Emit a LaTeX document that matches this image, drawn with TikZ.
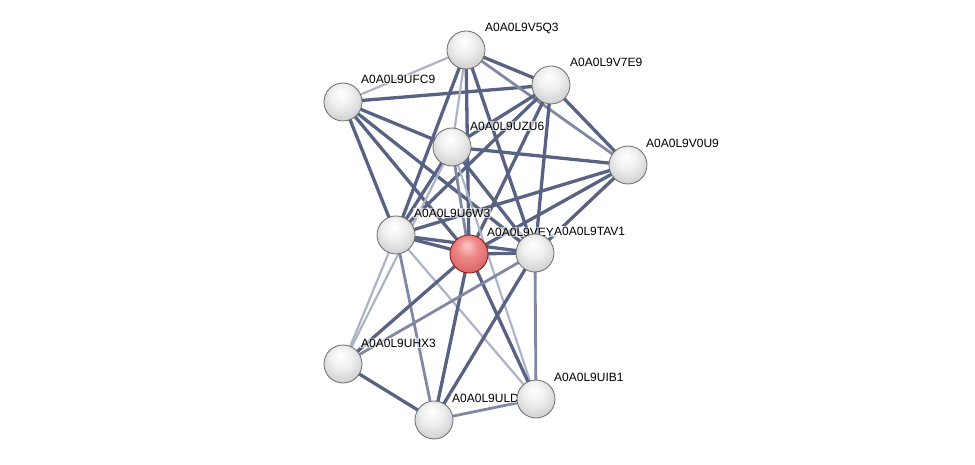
\documentclass[tikz,border=0pt]{standalone}
\usepackage{fontspec}
\setmainfont{Liberation Sans}
\definecolor{edk}{RGB}{88,98,130}
\definecolor{emd}{RGB}{128,136,165}
\definecolor{elt}{RGB}{172,178,200}
\definecolor{r0}{RGB}{250,200,200}
\definecolor{r1}{RGB}{238,135,135}
\definecolor{r2}{RGB}{215,95,95}
\definecolor{r3}{RGB}{175,55,55}
\definecolor{r4}{RGB}{140,30,30}
\pgfdeclareradialshading{wball}{\pgfpoint{-3bp}{12bp}}{color(0bp)=(white); color(14bp)=(white!94!black); color(32bp)=(white!80!black); color(42bp)=(white!70!black); color(48bp)=(white!58!black); color(50bp)=(white!50!black)}
\pgfdeclareradialshading{rball}{\pgfpoint{-3bp}{12bp}}{color(0bp)=(r0); color(14bp)=(r1); color(32bp)=(r2); color(42bp)=(r3); color(48bp)=(r4); color(50bp)=(r4)}
\tikzset{
  prot/.style={circle, minimum size=38pt, inner sep=0pt, shading=wball, draw=white!42!black, line width=0.8pt},
  qprot/.style={circle, minimum size=38pt, inner sep=0pt, shading=rball, draw=r4, line width=0.9pt},
  lbl/.style={anchor=west, font=\fontsize{12}{14}\selectfont, inner sep=1pt, fill=white, fill opacity=0.6, text opacity=1},
  dk/.style={draw=edk, line width=3.3pt},
  md/.style={draw=emd, line width=2.8pt},
  lt/.style={draw=elt, line width=2.2pt}
}
\begin{document}
\begin{tikzpicture}[x=1pt,y=-1pt]
\useasboundingbox (0,0) rectangle (975,465);
% node positions
\coordinate (v5q3) at (466,50);
\coordinate (v7e9) at (551,85);
\coordinate (ufc9) at (343,102);
\coordinate (uzu6) at (452,147);
\coordinate (v0u9) at (628,165);
\coordinate (u6w3) at (396,235);
\coordinate (vey) at (469,254);
\coordinate (tav1) at (535,253);
\coordinate (uhx3) at (343,364);
\coordinate (uib1) at (536,399);
\coordinate (uld) at (434,420);
% edges
\draw[lt] (ufc9) -- (v5q3);
\draw[dk] (ufc9) -- (v7e9);
\draw[dk] (ufc9) -- (uzu6);
\draw[dk] (ufc9) -- (u6w3);
\draw[dk] (ufc9) -- (vey);
\draw[dk] (ufc9) -- (tav1);
\draw[dk] (v5q3) -- (v7e9);
\draw[md] (v5q3) -- (v0u9);
\draw[lt] (v5q3) -- (uzu6);
\draw[dk] (v5q3) -- (u6w3);
\draw[dk] (v5q3) -- (vey);
\draw[dk] (v5q3) -- (tav1);
\draw[dk] (v7e9) -- (v0u9);
\draw[dk] (v7e9) -- (uzu6);
\draw[dk] (v7e9) -- (u6w3);
\draw[dk] (v7e9) -- (vey);
\draw[dk] (v7e9) -- (tav1);
\draw[dk] (uzu6) -- (v0u9);
\draw[dk] (uzu6) -- (u6w3);
\draw[md] (uzu6) -- (vey);
\draw[dk] (uzu6) -- (tav1);
\draw[lt] (uzu6) -- (uhx3);
\draw[lt] (uzu6) -- (uib1);
\draw[dk] (v0u9) -- (u6w3);
\draw[dk] (v0u9) -- (vey);
\draw[dk] (v0u9) -- (tav1);
\draw[dk] (u6w3) -- (vey);
\draw[dk] (u6w3) -- (tav1);
\draw[lt] (u6w3) -- (uhx3);
\draw[md] (u6w3) -- (uld);
\draw[lt] (u6w3) -- (uib1);
\draw[dk] (vey) -- (tav1);
\draw[dk] (vey) -- (uhx3);
\draw[dk] (vey) -- (uld);
\draw[dk] (vey) -- (uib1);
\draw[md] (tav1) -- (uhx3);
\draw[dk] (tav1) -- (uld);
\draw[md] (tav1) -- (uib1);
\draw[dk] (uhx3) -- (uld);
\draw[md] (uld) -- (uib1);
% labels
\node[lbl] (lv5q3) at (484,28) {A0A0L9V5Q3};
\node[lbl] (lv7e9) at (569,62) {A0A0L9V7E9};
\node[lbl] (lufc9) at (360,79) {A0A0L9UFC9};
\node[lbl] (luzu6) at (469,126) {A0A0L9UZU6};
\node[lbl] (lv0u9) at (645,143) {A0A0L9V0U9};
\node[lbl] (lu6w3) at (413,213) {A0A0L9U6W3};
\node[lbl] (lvey) at (486,232) {A0A0L9VEY};
\node[lbl, fill opacity=1] (ltav1) at (553,231) {A0A0L9TAV1};
\node[lbl] (luhx3) at (360,343) {A0A0L9UHX3};
\node[lbl] (luib1) at (553,377) {A0A0L9UIB1};
\node[lbl] (luld) at (451,398) {A0A0L9ULD};
% proteins
\node[prot] (n5) at (v5q3) {};
\node[prot] (n7) at (v7e9) {};
\node[prot] (nf) at (ufc9) {};
\node[prot] (nz) at (uzu6) {};
\node[prot] (n0) at (v0u9) {};
\node[prot] (nw) at (u6w3) {};
\node[qprot] (ny) at (vey) {};
\node[prot] (nt) at (tav1) {};
\node[prot] (nh) at (uhx3) {};
\node[prot] (nd) at (uld) {};
\node[prot] (nb) at (uib1) {};
\end{tikzpicture}
\end{document}
